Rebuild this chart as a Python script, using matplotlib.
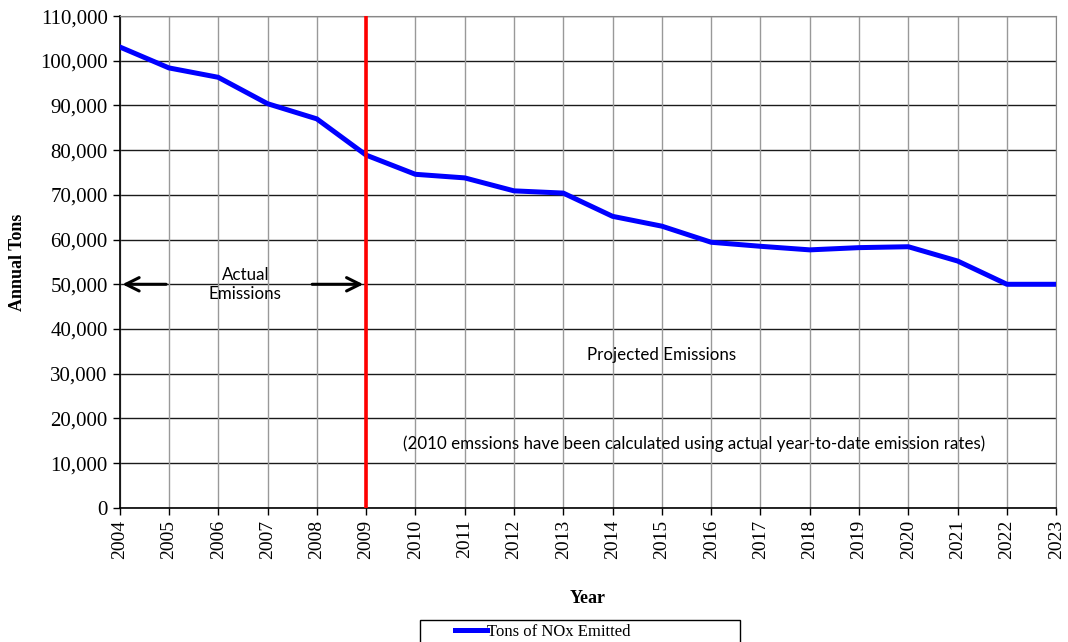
import matplotlib.pyplot as plt
from matplotlib.patches import Rectangle
from matplotlib.ticker import FuncFormatter

# data
years = [2004, 2005, 2006, 2007, 2008, 2009, 2010, 2011, 2012, 2013,
         2014, 2015, 2016, 2017, 2018, 2019, 2020, 2021, 2022, 2023]
nox_tons = [103100, 98400, 96300, 90400, 87000, 78900, 74600, 73800, 70900, 70400,
            65200, 63000, 59400, 58500, 57700, 58200, 58400, 55200, 50000, 50000]
split_year = 2009
y_ticks = list(range(0, 110001, 10000))

serif = 'Liberation Serif'
sans = 'Lato'

W, H = 1068, 642
fig = plt.figure(figsize=(W / 100, H / 100), dpi=100)
ax = fig.add_axes([0.112, 0.209, 0.877, 0.766])

# grid: horizontal dark, vertical lighter grey
for y in y_ticks:
    ax.axhline(y, color='#1a1a1a', lw=1.0, zorder=1)
for yr in years:
    ax.axvline(yr, color='#999999', lw=1.0, zorder=1)

line, = ax.plot(years, nox_tons, color='#0000ff', lw=3.6, zorder=3, label='Tons of NOx Emitted')
ax.plot([split_year, split_year], [0, 110000], color='#ff0000', lw=2.6, zorder=4)

ax.set_xlim(years[0], years[-1])
ax.set_ylim(0, 110000)
ax.set_xticks(years)
ax.set_xticklabels([str(y) for y in years], rotation=90, family=serif, fontsize=14)
ax.set_yticks(y_ticks)
ax.yaxis.set_major_formatter(FuncFormatter(lambda v, p: f'{int(v):,}'))
for t in ax.get_yticklabels():
    t.set_family(serif)
    t.set_fontsize(15)
ax.tick_params(axis='both', length=5, width=1, color='black', direction='out')

for s in ['left', 'bottom']:
    ax.spines[s].set_color('black')
    ax.spines[s].set_linewidth(1.2)
for s in ['top', 'right']:
    ax.spines[s].set_color('#888888')

ax.set_xlabel('Year', family=serif, fontsize=13, fontweight='bold', labelpad=22)
ax.set_ylabel('Annual Tons', family=serif, fontsize=13, fontweight='bold', labelpad=10)

# arrows and annotations
arrow = dict(arrowstyle='->', color='black', lw=2.2, mutation_scale=24)
ax.annotate('', xy=(2004.0, 50000), xytext=(2005.0, 50000), arrowprops=arrow, zorder=5)
ax.annotate('', xy=(2009.0, 50000), xytext=(2007.85, 50000), arrowprops=arrow, zorder=5)
ax.text(2006.55, 50000, 'Actual\nEmissions', family=sans, fontsize=12.2,
        ha='center', va='center', linespacing=1.25, zorder=5)
ax.text(2015.0, 34200, 'Projected Emissions', family=sans, fontsize=12.2,
        ha='center', va='center', zorder=5)
ax.text(2015.65, 14300,
        '(2010 emssions have been calculated using actual year-to-date emission rates)',
        family=sans, fontsize=12.2, ha='center', va='center', zorder=5)

# legend box runs off the bottom edge like the reference
fig.patches.append(Rectangle((420 / W, -0.05), 320 / W, 0.05 + 1 - 620 / H,
                             transform=fig.transFigure, fill=False,
                             edgecolor='black', lw=1.0))
fig.legend(handles=[line], loc='center left', bbox_to_anchor=(455 / W, 1 - 632 / H),
           frameon=False, handlelength=1.9, handletextpad=0.0, borderpad=0.0,
           borderaxespad=0.0, prop={'family': serif, 'size': 12})

fig.savefig('out.png', dpi=100)
